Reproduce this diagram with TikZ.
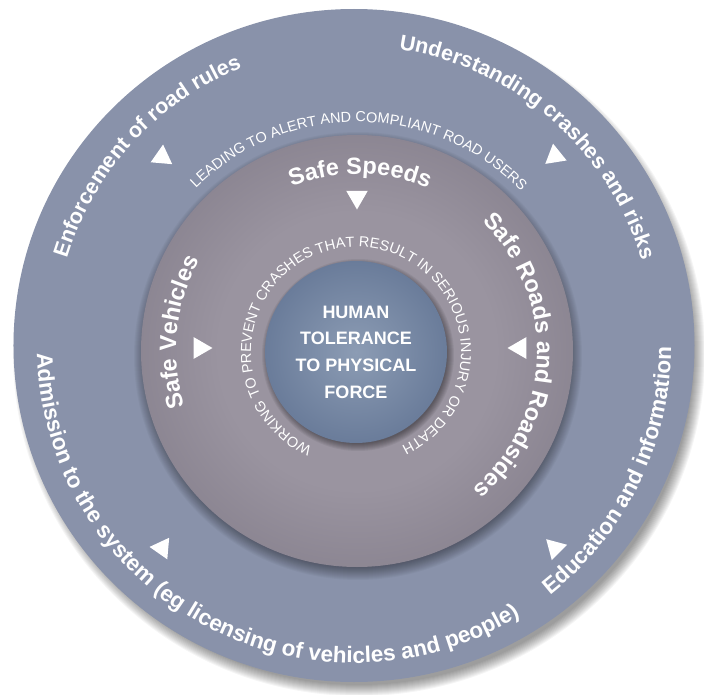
\documentclass[tikz,border=0pt]{standalone}
\usepackage{fontspec}
\setmainfont{Liberation Sans}
\usetikzlibrary{decorations.text,shapes.geometric}

\definecolor{ringdark}{RGB}{92,104,134}
\definecolor{ringlight}{RGB}{137,146,170}
\definecolor{discdark}{RGB}{102,96,110}
\definecolor{disclight}{RGB}{154,148,160}
\definecolor{coredark}{RGB}{72,92,128}
\definecolor{corelight}{RGB}{140,156,180}

\pgfdeclareradialshading{ringshade}{\pgfpoint{0bp}{0bp}}{color(0bp)=(ringlight); color(33bp)=(ringlight); color(50bp)=(ringdark)}
\pgfdeclareradialshading{discshade}{\pgfpoint{0bp}{0bp}}{color(0bp)=(disclight); color(16bp)=(disclight); color(50bp)=(discdark)}
\pgfdeclareradialshading{coreshade}{\pgfpoint{0bp}{0bp}}{color(0bp)=(corelight); color(50bp)=(coredark)}

\newcommand\ringfont{\fontsize{21.5}{24}\selectfont\bfseries}
\newcommand\lowfont{\fontsize{22.5}{24}\selectfont\bfseries}
\newcommand\safefont{\fontsize{23.5}{26}\selectfont\bfseries}
\newcommand\capsfont{\fontsize{14.5}{16}\selectfont}
\newcommand\corefont{\fontsize{18}{26.7}\selectfont\bfseries}

\begin{document}
\begin{tikzpicture}[x=1pt,y=1pt,
  tri/.style={regular polygon,regular polygon sides=3,fill=white,minimum size=25pt,inner sep=0pt},
  ringtext/.style={decorate,decoration={text along path,text align=center,text color=white,text={#1}}}]
	\useasboundingbox (-354,-347) rectangle (350,347);
	\foreach \k in {1,...,12}
	  \fill[black,opacity=.04] (5,-7) ellipse [x radius=334+\k, y radius=330+\k];
	\path[shade,shading=ringshade] (0,1.5) ellipse [x radius=340.5, y radius=336.5];
	\foreach \k in {1,...,14}
	  \fill[black,opacity=.03] (4,-9) circle [radius=210+\k];
	\path[shade,shading=discshade] (3,-4) circle [radius=216];
	\foreach \k in {1,...,8}
	  \fill[black,opacity=.06] (4,-8) circle [radius=88+\k];
	\node[circle,minimum size=182pt,inner sep=0pt,shade,shading=coreshade,text=white,align=center,font=\corefont] (core) at (2,-5) {HUMAN\\TOLERANCE\\TO PHYSICAL\\FORCE};

	\path[ringtext={|\ringfont|Enforcement of road rules}] (0,1) ++(177.5:300) arc[start angle=177.5,end angle=97.5,radius=300];
	\path[ringtext={|\ringfont|Understanding crashes and risks}] (0,1) ++(94:300) arc[start angle=94,end angle=4,radius=300];
	\path[ringtext={|\lowfont|Admission to the system (eg licensing of vehicles and people)}] (0,1) ++(166:317) arc[start angle=166,end angle=317,radius=317];
	\path[ringtext={|\lowfont|Education and information}] (0,1) ++(289:317) arc[start angle=289,end angle=379,radius=317];
	\path[ringtext={|\capsfont|LEADING TO ALERT AND COMPLIANT ROAD USERS}] (3,-4) ++(179.5:229) arc[start angle=179.5,end angle=-0.5,radius=229];
	\path[ringtext={|\safefont|Safe Speeds}] (3,-4) ++(149:177) arc[start angle=149,end angle=29,radius=177];
	\path[ringtext={|\safefont|Safe Vehicles}] (3,-4) ++(234:181) arc[start angle=234,end angle=114,radius=181];
	\path[ringtext={|\safefont|Safe Roads and Roadsides}] (3,-4) ++(68:180) arc[start angle=68,end angle=-72,radius=180];
	\path[ringtext={|\capsfont|WORKING TO PREVENT CRASHES THAT RESULT IN SERIOUS INJURY OR DEATH}] (2,-5) ++(260.5:105) arc[start angle=260.5,end angle=-79.5,radius=105];

	\node[tri,rotate=-5] (tEnf) at (-192,190) {};
	\node[tri,rotate=9] (tUnd) at (201,191) {};
	\node[tri,rotate=85] (tAdm) at (-192,-201) {};
	\node[tri,rotate=-75] (tEdu) at (201,-201) {};
	\node[tri,rotate=180] (tSpeed) at (3,150) {};
	\node[tri,rotate=-90] (tVeh) at (-154,-1) {};
	\node[tri,rotate=90] (tRoad) at (166,-1) {};
\end{tikzpicture}
\end{document}
